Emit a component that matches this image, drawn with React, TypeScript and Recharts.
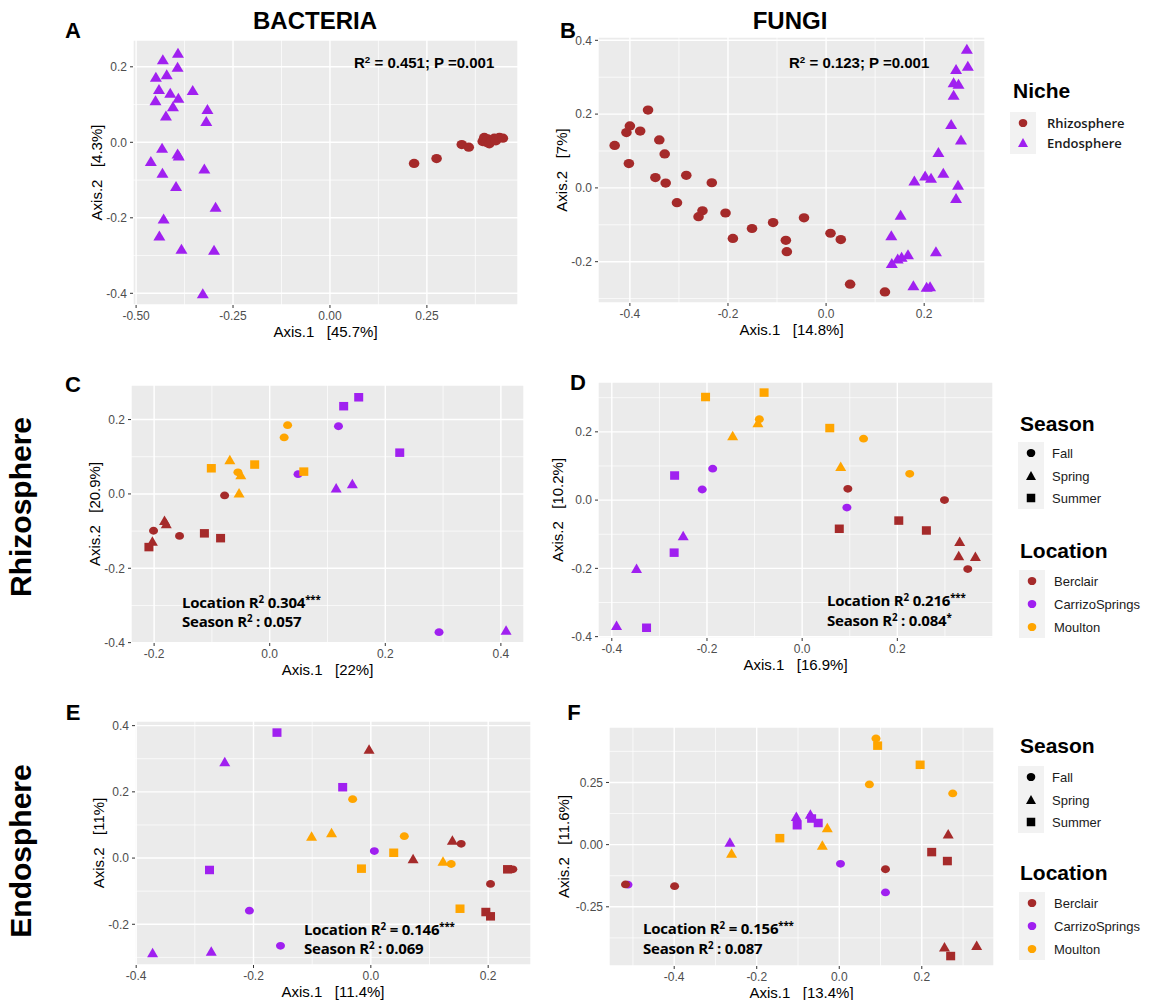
import React from 'react';
import { ScatterChart, Scatter, XAxis, YAxis, CartesianGrid, ReferenceLine } from 'recharts';

const BROWN = '#a52a2a';
const PURPLE = '#a020f0';
const ORANGE = '#ffa500';
const FONT = '"Liberation Sans", Arial, Helvetica, sans-serif';

// ---------- Panel A (Bacteria, niche) ----------
const A_rhizosphere: [number, number][] = [
  [0.217, -0.056], [0.275, -0.043], [0.340, -0.006], [0.358, -0.013], [0.394, 0.002], [0.398, 0.013],
  [0.403, 0.000], [0.407, 0.009], [0.411, -0.004], [0.416, 0.004], [0.424, 0.011], [0.428, 0.004],
  [0.437, 0.013], [0.446, 0.011],
];
const A_endosphere: [number, number][] = [
  [-0.392, 0.236], [-0.431, 0.219], [-0.393, 0.199], [-0.421, 0.179], [-0.449, 0.172], [-0.441, 0.140],
  [-0.354, 0.137], [-0.412, 0.130], [-0.391, 0.117], [-0.450, 0.110], [-0.405, 0.094], [-0.316, 0.087],
  [-0.423, 0.070], [-0.319, 0.055], [-0.433, -0.016], [-0.393, -0.031], [-0.390, -0.036], [-0.462, -0.051],
  [-0.324, -0.071], [-0.432, -0.082], [-0.397, -0.117], [-0.295, -0.172], [-0.429, -0.203], [-0.440, -0.248],
  [-0.383, -0.283], [-0.299, -0.286], [-0.328, -0.401],
];

// ---------- Panel B (Fungi, niche) ----------
const B_rhizosphere: [number, number][] = [
  [-0.363, 0.211], [-0.400, 0.168], [-0.407, 0.150], [-0.379, 0.154], [-0.431, 0.115], [-0.340, 0.130],
  [-0.329, 0.092], [-0.402, 0.066], [-0.348, 0.028], [-0.327, 0.013], [-0.285, 0.034], [-0.233, 0.014],
  [-0.304, -0.040], [-0.252, -0.062], [-0.260, -0.078], [-0.205, -0.068], [-0.108, -0.094], [-0.045, -0.081],
  [-0.151, -0.110], [-0.190, -0.137], [-0.082, -0.142], [-0.080, -0.173], [0.009, -0.123], [0.030, -0.140],
  [0.049, -0.261], [0.120, -0.282],
];
const B_endosphere: [number, number][] = [
  [0.287, 0.376], [0.289, 0.330], [0.265, 0.321], [0.260, 0.285], [0.270, 0.281], [0.260, 0.251],
  [0.255, 0.172], [0.275, 0.130], [0.229, 0.096], [0.239, 0.040], [0.202, 0.032], [0.214, 0.026],
  [0.180, 0.019], [0.269, 0.007], [0.265, -0.029], [0.152, -0.074], [0.133, -0.130], [0.224, -0.173],
  [0.167, -0.181], [0.154, -0.188], [0.146, -0.193], [0.134, -0.205], [0.178, -0.265], [0.205, -0.269],
  [0.212, -0.268],
];

type P = [number, number, string];

// ---------- Panel C (Bacteria, rhizosphere) ----------
const C_berclair: P[] = [
  [-0.078, -0.004, 'Fall'], [-0.182, -0.072, 'Spring'], [-0.179, -0.081, 'Spring'], [-0.201, -0.099, 'Fall'],
  [-0.203, -0.128, 'Spring'], [-0.209, -0.143, 'Summer'], [-0.156, -0.113, 'Fall'], [-0.113, -0.106, 'Summer'],
  [-0.085, -0.119, 'Summer'],
];
const C_carrizo: P[] = [
  [0.154, 0.260, 'Summer'], [0.128, 0.236, 'Summer'], [0.119, 0.182, 'Fall'], [0.225, 0.111, 'Summer'],
  [0.049, 0.053, 'Fall'], [0.115, 0.015, 'Spring'], [0.143, 0.027, 'Spring'], [0.293, -0.372, 'Fall'],
  [0.409, -0.367, 'Spring'],
];
const C_moulton: P[] = [
  [0.031, 0.185, 'Fall'], [0.025, 0.152, 'Fall'], [-0.101, 0.069, 'Summer'], [-0.069, 0.091, 'Spring'],
  [-0.026, 0.079, 'Summer'], [-0.055, 0.058, 'Fall'], [-0.050, 0.051, 'Spring'], [-0.053, 0.002, 'Spring'],
  [0.059, 0.060, 'Summer'],
];

// ---------- Panel D (Fungi, rhizosphere) ----------
const D_berclair: P[] = [
  [0.096, 0.033, 'Fall'], [0.299, 0.000, 'Fall'], [0.078, -0.084, 'Summer'], [0.203, -0.060, 'Summer'],
  [0.261, -0.089, 'Summer'], [0.331, -0.122, 'Spring'], [0.329, -0.164, 'Spring'], [0.364, -0.166, 'Spring'],
  [0.348, -0.202, 'Fall'],
];
const D_carrizo: P[] = [
  [-0.268, 0.072, 'Summer'], [-0.188, 0.092, 'Fall'], [-0.210, 0.031, 'Fall'], [-0.250, -0.105, 'Spring'],
  [-0.269, -0.154, 'Summer'], [-0.348, -0.201, 'Spring'], [-0.390, -0.368, 'Spring'], [-0.327, -0.374, 'Summer'],
  [0.094, -0.022, 'Fall'],
];
const D_moulton: P[] = [
  [-0.203, 0.302, 'Summer'], [-0.080, 0.315, 'Summer'], [-0.090, 0.237, 'Fall'], [-0.093, 0.226, 'Spring'],
  [-0.146, 0.188, 'Spring'], [0.058, 0.211, 'Summer'], [0.129, 0.180, 'Fall'], [0.081, 0.098, 'Spring'],
  [0.226, 0.077, 'Fall'],
];

// ---------- Panel E (Bacteria, endosphere) ----------
const E_berclair: P[] = [
  [-0.003, 0.328, 'Spring'], [0.139, 0.053, 'Spring'], [0.154, 0.043, 'Fall'], [0.072, -0.003, 'Spring'],
  [0.204, -0.078, 'Fall'], [0.233, -0.034, 'Summer'], [0.242, -0.034, 'Fall'], [0.196, -0.163, 'Summer'],
  [0.204, -0.176, 'Summer'],
];
const E_carrizo: P[] = [
  [-0.160, 0.379, 'Summer'], [-0.249, 0.290, 'Spring'], [-0.048, 0.214, 'Summer'], [0.006, 0.021, 'Fall'],
  [-0.275, -0.036, 'Summer'], [-0.207, -0.159, 'Fall'], [-0.154, -0.265, 'Fall'], [-0.372, -0.287, 'Spring'],
  [-0.272, -0.282, 'Spring'],
];
const E_moulton: P[] = [
  [-0.031, 0.178, 'Fall'], [-0.101, 0.065, 'Spring'], [-0.067, 0.076, 'Spring'], [0.057, 0.066, 'Fall'],
  [0.039, 0.016, 'Summer'], [-0.016, -0.032, 'Summer'], [0.123, -0.010, 'Spring'], [0.137, -0.018, 'Fall'],
  [0.152, -0.153, 'Summer'],
];

// ---------- Panel F (Fungi, endosphere) ----------
const F_carrizo: P[] = [
  [-0.104, 0.112, 'Spring'], [-0.102, 0.078, 'Summer'], [-0.070, 0.121, 'Spring'], [-0.067, 0.105, 'Summer'],
  [-0.051, 0.087, 'Summer'], [-0.265, 0.009, 'Spring'], [0.003, -0.077, 'Fall'], [0.112, -0.192, 'Fall'],
  [-0.512, -0.161, 'Fall'],
];
const F_berclair: P[] = [
  [-0.518, -0.160, 'Fall'], [-0.399, -0.167, 'Fall'], [0.264, 0.042, 'Spring'], [0.224, -0.030, 'Summer'],
  [0.262, -0.066, 'Summer'], [0.112, -0.099, 'Fall'], [0.255, -0.413, 'Spring'], [0.333, -0.406, 'Spring'],
  [0.270, -0.448, 'Summer'],
];
const F_moulton: P[] = [
  [0.089, 0.427, 'Fall'], [0.093, 0.398, 'Summer'], [0.196, 0.321, 'Summer'], [0.073, 0.242, 'Fall'],
  [0.275, 0.206, 'Fall'], [-0.144, 0.026, 'Summer'], [-0.029, 0.067, 'Spring'], [-0.041, -0.003, 'Spring'],
  [-0.261, -0.036, 'Spring'],
];

const SEASONS = ['Fall', 'Spring', 'Summer'];
const LOCATIONS = ['Berclair', 'CarrizoSprings', 'Moulton'];
const NICHES = ['Rhizosphere', 'Endosphere'];

type Sizes = { rx: number; ry: number; tw: number; th: number; sw: number; sh: number };
const BIG: Sizes = { rx: 5.3, ry: 4.6, tw: 12, th: 10, sw: 9, sh: 9 };
const SMALL: Sizes = { rx: 4.5, ry: 3.9, tw: 11, th: 9.5, sw: 9, sh: 8.5 };

function drawShape(shape: string, cx: number, cy: number, color: string, sz: Sizes, key?: any) {
  if (shape === 'Spring' || shape === 'triangle') {
    const pts = `${cx},${cy - sz.th * 0.55} ${cx - sz.tw / 2},${cy + sz.th * 0.45} ${cx + sz.tw / 2},${cy + sz.th * 0.45}`;
    return <polygon key={key} points={pts} fill={color} />;
  }
  if (shape === 'Summer' || shape === 'square') {
    return <rect key={key} x={cx - sz.sw / 2} y={cy - sz.sh / 2} width={sz.sw} height={sz.sh} fill={color} />;
  }
  return <ellipse key={key} cx={cx} cy={cy} rx={sz.rx} ry={sz.ry} fill={color} />;
}

const makeShape = (color: string, sz: Sizes) => (props: any) => {
  const { cx, cy } = props;
  if (cx == null || cy == null) return <g />;
  const s = (props.payload && props.payload.s) || props.s || 'Fall';
  return drawShape(s, cx, cy, color, sz);
};

const pairs = (arr: [number, number][], s: string) => arr.map(([x, y]) => ({ x, y, s }));
const triples = (arr: P[]) => arr.map(([x, y, s]) => ({ x, y, s }));

type Series = { name: string; data: { x: number; y: number; s: string }[]; color: string };
type Cfg = {
  plot: { x0: number; y0: number; x1: number; y1: number };
  xDomain: [number, number];
  yDomain: [number, number];
  xTicks: number[];
  yTicks: number[];
  xMinor: number[];
  yMinor: number[];
  xDec: number;
  yDec: number;
  xLabel: string;
  yLabel: string;
  yGap: number;
  sizes: Sizes;
  series: Series[];
};

const SP = '\u00a0\u00a0\u00a0';

const PANELS: Cfg[] = [
  {
    plot: { x0: 133, y0: 40, x1: 518, y1: 305 },
    xDomain: [-0.508, 0.485], yDomain: [-0.431, 0.271],
    xTicks: [-0.5, -0.25, 0, 0.25], yTicks: [-0.4, -0.2, 0, 0.2],
    xMinor: [-0.375, -0.125, 0.125, 0.375], yMinor: [-0.3, -0.1, 0.1],
    xDec: 2, yDec: 1, xLabel: `Axis.1${SP}[45.7%]`, yLabel: `Axis.2${SP}[4.3%]`, yGap: 36, sizes: BIG,
    series: [
      { name: 'Rhizosphere', data: pairs(A_rhizosphere, 'circle'), color: BROWN },
      { name: 'Endosphere', data: pairs(A_endosphere, 'triangle'), color: PURPLE },
    ],
  },
  {
    plot: { x0: 598, y0: 37, x1: 985, y1: 303 },
    xDomain: [-0.465, 0.324], yDomain: [-0.312, 0.409],
    xTicks: [-0.4, -0.2, 0, 0.2], yTicks: [-0.2, 0, 0.2, 0.4],
    xMinor: [-0.3, -0.1, 0.1, 0.3], yMinor: [-0.3, -0.1, 0.1, 0.3],
    xDec: 1, yDec: 1, xLabel: `Axis.1${SP}[14.8%]`, yLabel: `Axis.2${SP}[7%]`, yGap: 36, sizes: BIG,
    series: [
      { name: 'Rhizosphere', data: pairs(B_rhizosphere, 'circle'), color: BROWN },
      { name: 'Endosphere', data: pairs(B_endosphere, 'triangle'), color: PURPLE },
    ],
  },
  {
    plot: { x0: 131, y0: 385, x1: 524, y1: 643 },
    xDomain: [-0.24, 0.44], yDomain: [-0.401, 0.293],
    xTicks: [-0.2, 0, 0.2, 0.4], yTicks: [-0.4, -0.2, 0, 0.2],
    xMinor: [-0.1, 0.1, 0.3], yMinor: [-0.3, -0.1, 0.1],
    xDec: 1, yDec: 1, xLabel: `Axis.1${SP}[22%]`, yLabel: `Axis.2${SP}[20.9%]`, yGap: 36, sizes: SMALL,
    series: [
      { name: 'Berclair', data: triples(C_berclair), color: BROWN },
      { name: 'CarrizoSprings', data: triples(C_carrizo), color: PURPLE },
      { name: 'Moulton', data: triples(C_moulton), color: ORANGE },
    ],
  },
  {
    plot: { x0: 598, y0: 382, x1: 993, y1: 638 },
    xDomain: [-0.429, 0.401], yDomain: [-0.404, 0.346],
    xTicks: [-0.4, -0.2, 0, 0.2], yTicks: [-0.4, -0.2, 0, 0.2],
    xMinor: [-0.3, -0.1, 0.1, 0.3], yMinor: [-0.3, -0.1, 0.1, 0.3],
    xDec: 1, yDec: 1, xLabel: `Axis.1${SP}[16.9%]`, yLabel: `Axis.2${SP}[10.2%]`, yGap: 40, sizes: SMALL,
    series: [
      { name: 'Berclair', data: triples(D_berclair), color: BROWN },
      { name: 'CarrizoSprings', data: triples(D_carrizo), color: PURPLE },
      { name: 'Moulton', data: triples(D_moulton), color: ORANGE },
    ],
  },
  {
    plot: { x0: 135, y0: 721, x1: 531, y1: 965 },
    xDomain: [-0.402, 0.273], yDomain: [-0.323, 0.414],
    xTicks: [-0.4, -0.2, 0, 0.2], yTicks: [-0.2, 0, 0.2, 0.4],
    xMinor: [-0.3, -0.1, 0.1], yMinor: [-0.3, -0.1, 0.1, 0.3],
    xDec: 1, yDec: 1, xLabel: `Axis.1${SP}[11.4%]`, yLabel: `Axis.2${SP}[11%]`, yGap: 36, sizes: SMALL,
    series: [
      { name: 'Berclair', data: triples(E_berclair), color: BROWN },
      { name: 'CarrizoSprings', data: triples(E_carrizo), color: PURPLE },
      { name: 'Moulton', data: triples(E_moulton), color: ORANGE },
    ],
  },
  {
    plot: { x0: 609, y0: 727, x1: 994, y1: 966 },
    xDomain: [-0.558, 0.375], yDomain: [-0.488, 0.473],
    xTicks: [-0.4, -0.2, 0, 0.2], yTicks: [-0.25, 0, 0.25],
    xMinor: [-0.5, -0.3, -0.1, 0.1, 0.3], yMinor: [-0.375, -0.125, 0.125, 0.375],
    xDec: 1, yDec: 2, xLabel: `Axis.1${SP}[13.4%]`, yLabel: `Axis.2${SP}[11.6%]`, yGap: 45, sizes: SMALL,
    series: [
      { name: 'CarrizoSprings', data: triples(F_carrizo), color: PURPLE },
      { name: 'Berclair', data: triples(F_berclair), color: BROWN },
      { name: 'Moulton', data: triples(F_moulton), color: ORANGE },
    ],
  },
];

function Panel({ cfg }: { cfg: Cfg }) {
  const YW = 60, XH = 40, MT = 4, MR = 4;
  const { plot } = cfg;
  const w = plot.x1 - plot.x0 + YW + MR;
  const h = plot.y1 - plot.y0 + MT + XH;
  const fmtX = (v: number) => v.toFixed(cfg.xDec);
  const fmtY = (v: number) => v.toFixed(cfg.yDec);
  return (
    <div style={{ position: 'absolute', left: plot.x0 - YW, top: plot.y0 - MT, width: w, height: h }}>
      <ScatterChart width={w} height={h} margin={{ top: MT, right: MR, left: 0, bottom: 0 }} style={{ fontFamily: FONT }}>
        <CartesianGrid fill="#ebebeb" stroke="#ffffff" strokeWidth={1.4} />
        {cfg.xMinor.map((v) => (
          <ReferenceLine key={'vx' + v} x={v} stroke="#ffffff" strokeWidth={0.7} />
        ))}
        {cfg.yMinor.map((v) => (
          <ReferenceLine key={'hy' + v} y={v} stroke="#ffffff" strokeWidth={0.7} />
        ))}
        <XAxis
          type="number" dataKey="x" domain={cfg.xDomain} ticks={cfg.xTicks} allowDataOverflow
          tickFormatter={fmtX} axisLine={false} tickLine={{ stroke: '#333333' }} tickSize={3} tickMargin={3}
          tick={{ fill: '#4d4d4d', fontSize: 12 }} height={XH} interval={0}
          label={{ value: cfg.xLabel, position: 'insideBottom', offset: 8, style: { fontSize: 15, fill: '#000000' } }}
        />
        <YAxis
          type="number" dataKey="y" domain={cfg.yDomain} ticks={cfg.yTicks} allowDataOverflow
          tickFormatter={fmtY} axisLine={false} tickLine={{ stroke: '#333333' }} tickSize={3} tickMargin={3}
          tick={{ fill: '#4d4d4d', fontSize: 12 }} width={YW} interval={0}
          label={{ value: cfg.yLabel, angle: -90, position: 'insideLeft', offset: YW - cfg.yGap, style: { textAnchor: 'middle', fontSize: 15, fill: '#000000' } }}
        />
        {cfg.series.map((s) => (
          <Scatter key={s.name} name={s.name} data={s.data} fill={s.color} shape={makeShape(s.color, cfg.sizes)} isAnimationActive={false} />
        ))}
      </ScatterChart>
    </div>
  );
}

const T = ({ x, y, children, style, center }: any) => (
  <div
    style={{
      position: 'absolute', left: x, top: y, whiteSpace: 'nowrap', lineHeight: 1,
      transform: center ? 'translate(-50%, -50%)' : 'translateY(-50%)', fontFamily: FONT, color: '#000', ...style,
    }}
  >
    {children}
  </div>
);

const Sup = ({ children }: any) => (
  <span style={{ fontSize: '0.65em', position: 'relative', top: '-0.5em' }}>{children}</span>
);

function Annot({ x, y1, y2, loc, locSig, season, seasonSig, eq }: any) {
  const st = { fontSize: 15, fontWeight: 700, fontFamily: '"Open Sans", "Liberation Sans", sans-serif', letterSpacing: -0.2 };
  return (
    <>
      <T x={x} y={y1} style={st}>
        Location R<Sup>2</Sup>{eq ? ' = ' : ' '}{loc}<Sup>{locSig}</Sup>
      </T>
      <T x={x} y={y2} style={st}>
        Season R<Sup>2</Sup> : {season}<Sup>{seasonSig}</Sup>
      </T>
    </>
  );
}

function KeySym({ kind, color, size }: any) {
  const sz: Sizes = size === 'big'
    ? { rx: 5, ry: 4.5, tw: 11, th: 9.5, sw: 9, sh: 9 }
    : { rx: 4.3, ry: 4.1, tw: 10, th: 9, sw: 8.5, sh: 8.5 };
  return (
    <svg width={20} height={20} style={{ display: 'block' }}>
      {drawShape(kind, 10, 10, color, sz)}
    </svg>
  );
}

function LegendBlock({ x, y, title, items, keyX, labelX, rowY, bold }: any) {
  const first = rowY[0], last = rowY[rowY.length - 1];
  return (
    <>
      <T x={x} y={y} style={{ fontSize: 21, fontWeight: 700 }}>{title}</T>
      <div style={{ position: 'absolute', left: keyX - 13, top: first - 11, width: 26, height: last - first + 22, background: '#f2f2f2' }} />
      {items.map((it: any, i: number) => (
        <React.Fragment key={it.label}>
          <div style={{ position: 'absolute', left: keyX - 10, top: rowY[i] - 10 }}>
            <KeySym kind={it.kind} color={it.color} size="small" />
          </div>
          <T x={labelX} y={rowY[i]} style={{ fontSize: 13, fontWeight: bold ? 600 : 400, fontFamily: bold ? '"Open Sans", sans-serif' : FONT, color: '#1a1a1a' }}>
            {it.label}
          </T>
        </React.Fragment>
      ))}
    </>
  );
}

const seasonItems = SEASONS.map((s) => ({ label: s, kind: s, color: '#000000' }));
const locationItems = LOCATIONS.map((l, i) => ({ label: l, kind: 'circle', color: [BROWN, PURPLE, ORANGE][i] }));
const nicheItems = NICHES.map((n, i) => ({ label: n, kind: i === 0 ? 'circle' : 'triangle', color: i === 0 ? BROWN : PURPLE }));

export default function App() {
  const letter = { fontSize: 22, fontWeight: 700 };
  return (
    <div style={{ position: 'absolute', left: 0, top: 0, width: 1154, height: 1000, background: '#ffffff', overflow: 'hidden', fontFamily: FONT }}>
      {PANELS.map((p, i) => (
        <Panel key={i} cfg={p} />
      ))}

      <T x={315} y={21} center style={{ fontSize: 24, fontWeight: 700 }}>BACTERIA</T>
      <T x={790} y={21} center style={{ fontSize: 24, fontWeight: 700 }}>FUNGI</T>

      <T x={73} y={31} center style={letter}>A</T>
      <T x={568} y={31} center style={letter}>B</T>
      <T x={73} y={385} center style={letter}>C</T>
      <T x={578} y={383} center style={letter}>D</T>
      <T x={73} y={713} center style={letter}>E</T>
      <T x={574} y={713} center style={letter}>F</T>

      <T x={21} y={507} center style={{ fontSize: 30, fontWeight: 700, transform: 'translate(-50%, -50%) rotate(-90deg)' }}>Rhizosphere</T>
      <T x={21} y={851} center style={{ fontSize: 30, fontWeight: 700, transform: 'translate(-50%, -50%) rotate(-90deg)' }}>Endosphere</T>

      <T x={354} y={62} style={{ fontSize: 15, fontWeight: 700 }}>R<Sup>2</Sup> = 0.451; P =0.001</T>
      <T x={789} y={62} style={{ fontSize: 15, fontWeight: 700 }}>R<Sup>2</Sup> = 0.123; P =0.001</T>

      <Annot x={182} y1={602} y2={621} loc="0.304" locSig="***" season="0.057" seasonSig="" eq={false} />
      <Annot x={827} y1={600} y2={620} loc="0.216" locSig="***" season="0.084" seasonSig="*" eq={false} />
      <Annot x={304} y1={929} y2={948} loc="0.146" locSig="***" season="0.069" seasonSig="" eq={true} />
      <Annot x={643} y1={928} y2={948} loc="0.156" locSig="***" season="0.087" seasonSig="" eq={true} />

      <LegendBlock x={1013} y={90} title="Niche" items={nicheItems} keyX={1023} labelX={1047} rowY={[123, 143]} bold />

      <LegendBlock x={1020} y={423} title="Season" items={seasonItems} keyX={1031} labelX={1052} rowY={[453, 476, 498]} />
      <LegendBlock x={1020} y={550} title="Location" items={locationItems} keyX={1032} labelX={1054} rowY={[581, 604, 627]} />

      <LegendBlock x={1020} y={745} title="Season" items={seasonItems} keyX={1031} labelX={1052} rowY={[777, 800, 822]} />
      <LegendBlock x={1020} y={872} title="Location" items={locationItems} keyX={1032} labelX={1054} rowY={[903, 926, 949]} />
    </div>
  );
}
